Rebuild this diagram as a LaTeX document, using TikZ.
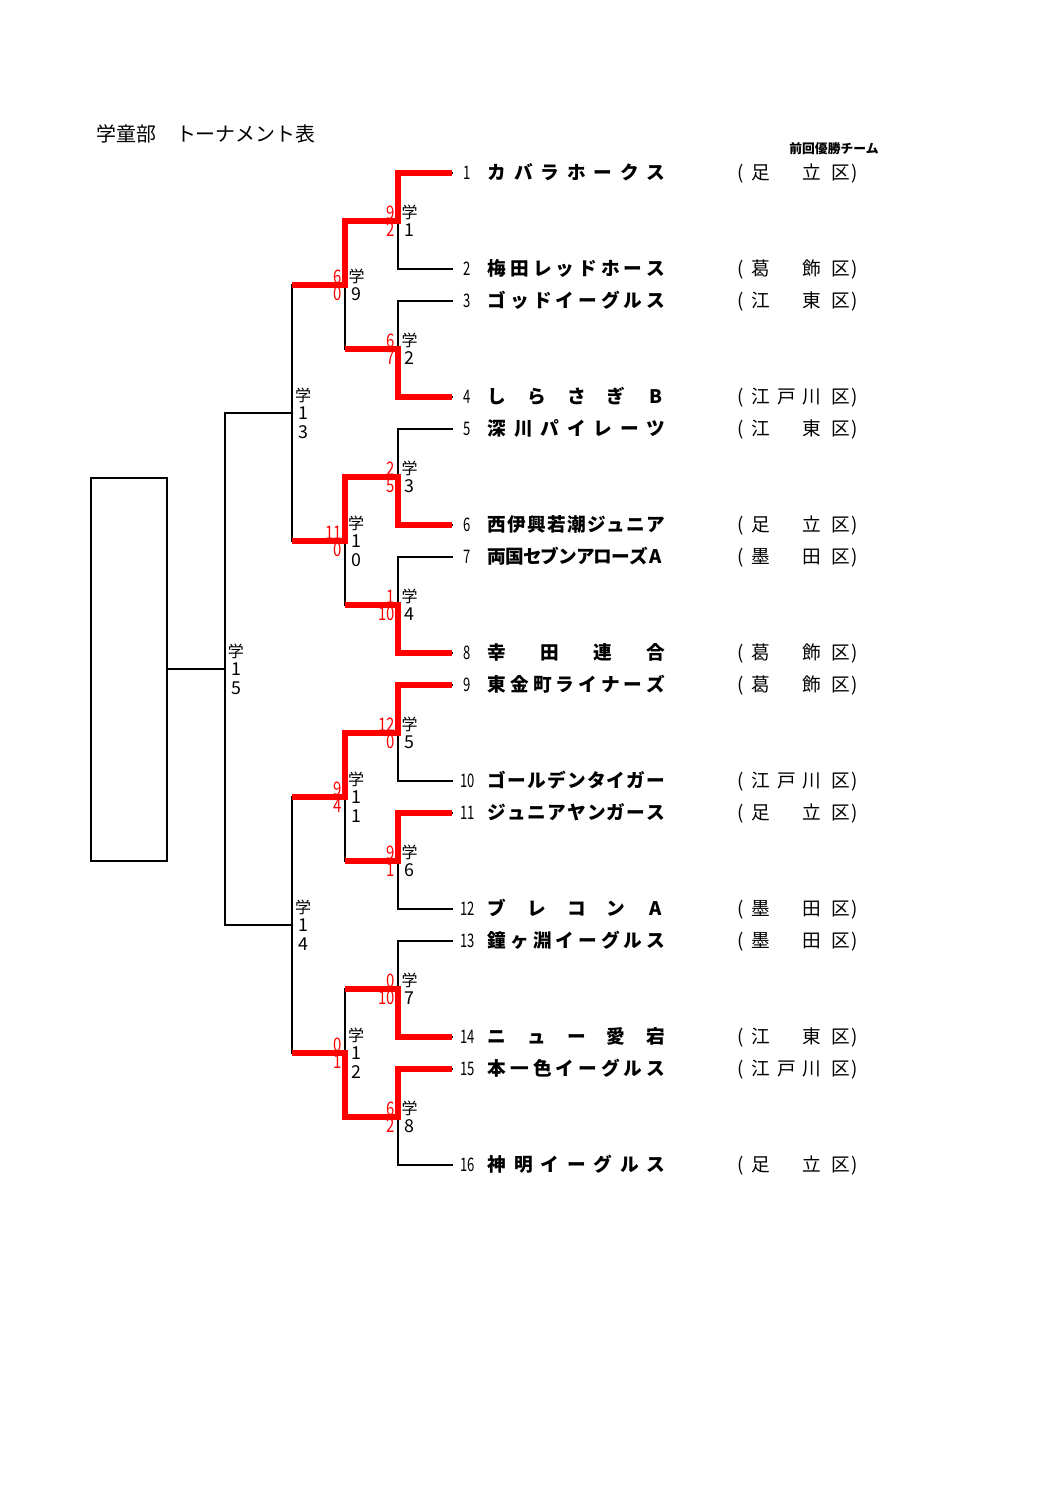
\documentclass[tikz,border=0pt]{standalone}
\usepackage{graphicx}
\usepackage{fontspec}
\newfontfamily\jp{Noto Sans CJK JP}
\usetikzlibrary{calc}
\tikzset{
  blk/.style={line width=1.2pt, black, line join=miter, line cap=rect},
  win/.style={line width=3pt, red, line join=miter},
  jtext/.style={inner sep=0pt, text height=0.88em, text depth=0.12em},
  nm/.style={jtext, font=\jp\bfseries\fontsize{10.5}{10.5}\selectfont},
  dist/.style={jtext, font=\jp\fontsize{10.5}{10.5}\selectfont},
  tnum/.style={jtext, font=\jp\fontsize{10.5}{10.5}\selectfont},
  mlab/.style={jtext, font=\jp\fontsize{9}{9}\selectfont},
  mdig/.style={jtext, font=\jp\fontsize{10}{10}\selectfont},
  scr/.style={jtext, red, anchor=east, font=\jp\fontsize{10.5}{10.5}\selectfont},
}
% team row: #1 index, #2 y, #3 number of chars, #4 chars, #5 district slots
\newcommand\teamrow[5]{%
  \coordinate (T#1) at (452,#2);
  \node[tnum] (N#1) at (467.5,#2) {\scalebox{0.7}[1]{#1}};
  \foreach \c [count=\i from 0] in {#4} {\node[nm] (C#1-\i) at ({497+\i*159/(#3-1)},#2) {\c};}
  \node[dist] (P#1a) at (741,#2) {(};
  \foreach \d [count=\i from 0] in {#5} {\node[dist] (D#1-\i) at ({761+\i*25.5},#2) {\d};}
  \node[dist] (K#1) at (841,#2) {区};
  \node[dist] (P#1b) at (855,#2) {)};
}
\newcommand\mlabA[3]{% name, junction, digit
  \node[mlab] (#1g) at ($(#2)+(11.5,-9)$) {学};
  \node[mdig] (#1d) at ($(#2)+(11.5,9)$) {#3};
}
\newcommand\mlabB[4]{% name, junction, digit1, digit2
  \node[mlab] (#1g) at ($(#2)+(11,-18)$) {学};
  \node[mdig] (#1d) at ($(#2)+(11,0)$) {#3};
  \node[mdig] (#1e) at ($(#2)+(11,19)$) {#4};
}
\newcommand\score[4]{% name, junction, top, bottom
  \node[scr] (#1t) at ($(#2)+(-2.5,-8)$) {\scalebox{0.8}[1]{#3}};
  \node[scr] (#1b) at ($(#2)+(-2.5,9)$) {\scalebox{0.8}[1]{#4}};
}
\begin{document}
\begin{tikzpicture}[x=0.5624pt,y=-0.5624pt]
\useasboundingbox (0,0) rectangle (1058,1497);
\fill[white] (0,0) rectangle (1058,1497);

% title
\node[jtext, anchor=west, font=\jp\fontsize{11.2}{11.2}\selectfont] (title) at (96,135) {学童部　トーナメント表};
\node[jtext, font=\jp\bfseries\fontsize{7.2}{7.2}\selectfont] (prev) at (834,147) {前回優勝チーム};

% teams
\teamrow{1}{173}{7}{カ,バ,ラ,ホ,ー,ク,ス}{足,,立}
\teamrow{2}{269}{8}{梅,田,レ,ッ,ド,ホ,ー,ス}{葛,,飾}
\teamrow{3}{301}{8}{ゴ,ッ,ド,イ,ー,グ,ル,ス}{江,,東}
\teamrow{4}{397}{5}{し,ら,さ,ぎ,B}{江,戸,川}
\teamrow{5}{429}{7}{深,川,パ,イ,レ,ー,ツ}{江,,東}
\teamrow{6}{525}{9}{西,伊,興,若,潮,ジ,ュ,ニ,ア}{足,,立}
\teamrow{7}{557}{10}{両,国,セ,ブ,ン,ア,ロ,ー,ズ,A}{墨,,田}
\teamrow{8}{653}{4}{幸,田,連,合}{葛,,飾}
\teamrow{9}{685}{8}{東,金,町,ラ,イ,ナ,ー,ズ}{葛,,飾}
\teamrow{10}{781}{9}{ゴ,ー,ル,デ,ン,タ,イ,ガ,ー}{江,戸,川}
\teamrow{11}{813}{9}{ジ,ュ,ニ,ア,ヤ,ン,ガ,ー,ス}{足,,立}
\teamrow{12}{909}{5}{ブ,レ,コ,ン,A}{墨,,田}
\teamrow{13}{941}{8}{鐘,ヶ,淵,イ,ー,グ,ル,ス}{墨,,田}
\teamrow{14}{1037}{5}{ニ,ュ,ー,愛,宕}{江,,東}
\teamrow{15}{1069}{8}{本,一,色,イ,ー,グ,ル,ス}{江,戸,川}
\teamrow{16}{1165}{7}{神,明,イ,ー,グ,ル,ス}{足,,立}

% junctions
\coordinate (J1) at (398,221);
\coordinate (J2) at (398,349);
\coordinate (J3) at (398,477);
\coordinate (J4) at (398,605);
\coordinate (J5) at (398,733);
\coordinate (J6) at (398,861);
\coordinate (J7) at (398,989);
\coordinate (J8) at (398,1117);
\coordinate (J9) at (345,285);
\coordinate (J10) at (345,541);
\coordinate (J11) at (345,797);
\coordinate (J12) at (345,1053);
\coordinate (J13) at (292,413);
\coordinate (J14) at (292,925);
\coordinate (J15) at (225,669);

% champion box
\node[draw, line width=1.2pt, minimum width=76*0.5624pt, minimum height=383*0.5624pt, inner sep=0] (box) at (129,669.5) {};

% black bracket
\draw[blk] (T1) -| (J1) |- (T2);
\draw[blk] (T3) -| (J2) |- (T4);
\draw[blk] (T5) -| (J3) |- (T6);
\draw[blk] (T7) -| (J4) |- (T8);
\draw[blk] (T9) -| (J5) |- (T10);
\draw[blk] (T11) -| (J6) |- (T12);
\draw[blk] (T13) -| (J7) |- (T14);
\draw[blk] (T15) -| (J8) |- (T16);
\draw[blk] (J1) -| (J9) |- (J2);
\draw[blk] (J3) -| (J10) |- (J4);
\draw[blk] (J5) -| (J11) |- (J6);
\draw[blk] (J7) -| (J12) |- (J8);
\draw[blk] (J9) -| (J13) |- (J10);
\draw[blk] (J11) -| (J14) |- (J12);
\draw[blk] (J13) -| (J15) |- (J14);
\draw[blk] (J15) -- (box.east |- J15);

% winners
\draw[win] (T1) -| (J1) -| (J9) -- (J9 -| J13);
\draw[win] (T4) -| (J2) -- (J2 -| J9);
\draw[win] (T6) -| (J3) -| (J10) -- (J10 -| J13);
\draw[win] (T8) -| (J4) -- (J4 -| J10);
\draw[win] (T9) -| (J5) -| (J11) -- (J11 -| J14);
\draw[win] (T11) -| (J6) -- (J6 -| J11);
\draw[win] (T14) -| (J7) -- (J7 -| J12);
\draw[win] (T15) -| (J8) -| (J12) -- (J12 -| J14);

% match labels
\mlabA{m1}{J1}{1}
\mlabA{m2}{J2}{2}
\mlabA{m3}{J3}{3}
\mlabA{m4}{J4}{4}
\mlabA{m5}{J5}{5}
\mlabA{m6}{J6}{6}
\mlabA{m7}{J7}{7}
\mlabA{m8}{J8}{8}
\mlabA{m9}{J9}{9}
\mlabB{m10}{J10}{1}{0}
\mlabB{m11}{J11}{1}{1}
\mlabB{m12}{J12}{1}{2}
\mlabB{m13}{J13}{1}{3}
\mlabB{m14}{J14}{1}{4}
\mlabB{m15}{J15}{1}{5}

% scores
\score{s1}{J1}{9}{2}
\score{s2}{J2}{6}{7}
\score{s3}{J3}{2}{5}
\score{s4}{J4}{1}{10}
\score{s5}{J5}{12}{0}
\score{s6}{J6}{9}{1}
\score{s7}{J7}{0}{10}
\score{s8}{J8}{6}{2}
\score{s9}{J9}{6}{0}
\score{s10}{J10}{11}{0}
\score{s11}{J11}{9}{4}
\score{s12}{J12}{0}{1}
\end{tikzpicture}
\end{document}
